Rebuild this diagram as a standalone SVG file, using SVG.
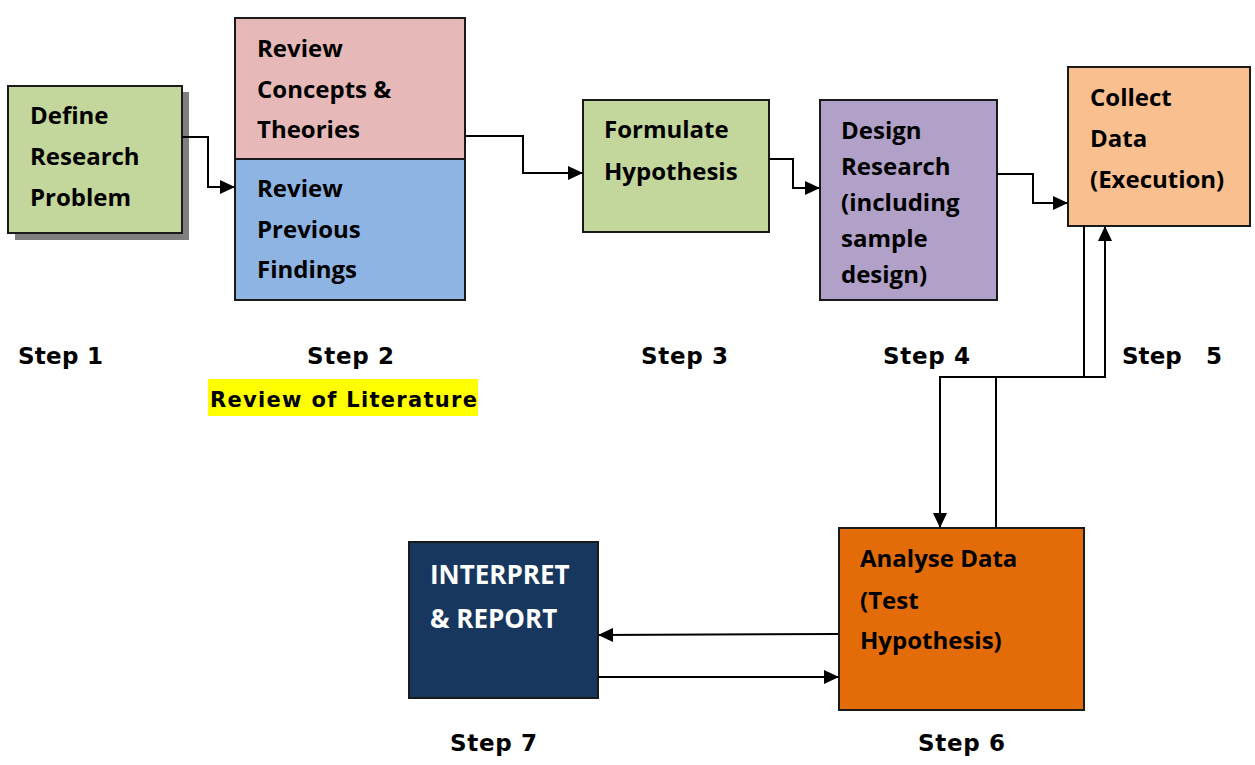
<svg xmlns="http://www.w3.org/2000/svg" width="1255" height="765" viewBox="0 0 1255 765">
<style>
.box{stroke:#1a1a1a;stroke-width:2}
.t{font-family:"Open Sans","Noto Sans","Liberation Sans",sans-serif;font-weight:bold;font-size:24px;fill:#000}
.w{fill:#fff;font-size:26px}
.lbl{font-family:"DejaVu Sans","Liberation Sans",sans-serif;font-weight:bold;font-size:23px;fill:#000}
.c{fill:none;stroke:#000;stroke-width:2}
</style>
<defs>
<marker id="ah" markerUnits="userSpaceOnUse" markerWidth="16" markerHeight="14" refX="14" refY="7" orient="auto">
<path d="M0,0 L15,7 L0,14 Z" fill="#000"/>
</marker>
</defs>
<rect width="1255" height="765" fill="#fff"/>

<g id="step1">
<rect x="15" y="92" width="174" height="148" fill="#7f7f7f"/>
<rect class="box" x="8" y="86" width="174" height="147" fill="#C3D69B"/>
<text class="t" x="30" y="124">Define</text>
<text class="t" x="30" y="165">Research</text>
<text class="t" x="30" y="206">Problem</text>
</g>

<g id="step2">
<rect class="box" x="235" y="18" width="230" height="141" fill="#E6B8B7"/>
<rect class="box" x="235" y="159" width="230" height="141" fill="#8EB4E3"/>
<text class="t" x="257" y="57">Review</text>
<text class="t" x="257" y="98">Concepts &amp;</text>
<text class="t" x="257" y="138">Theories</text>
<text class="t" x="257" y="197">Review</text>
<text class="t" x="257" y="238">Previous</text>
<text class="t" x="257" y="278">Findings</text>
</g>

<g id="step3">
<rect class="box" x="583" y="100" width="186" height="132" fill="#C3D69B"/>
<text class="t" x="604" y="138">Formulate</text>
<text class="t" x="604" y="180">Hypothesis</text>
</g>

<g id="step4">
<rect class="box" x="820" y="100" width="177" height="200" fill="#B1A0C7"/>
<text class="t" x="841" y="139">Design</text>
<text class="t" x="841" y="175">Research</text>
<text class="t" x="841" y="211">(including</text>
<text class="t" x="841" y="247">sample</text>
<text class="t" x="841" y="283">design)</text>
</g>

<g id="step5">
<rect class="box" x="1068" y="67" width="182" height="159" fill="#FABF8F"/>
<text class="t" x="1090" y="106">Collect</text>
<text class="t" x="1090" y="147">Data</text>
<text class="t" x="1090" y="188">(Execution)</text>
</g>

<g id="step6">
<rect class="box" x="839" y="528" width="245" height="182" fill="#E36C09"/>
<text class="t" x="860" y="567">Analyse Data</text>
<text class="t" x="860" y="609">(Test</text>
<text class="t" x="860" y="649">Hypothesis)</text>
</g>

<g id="step7">
<rect class="box" x="409" y="542" width="189" height="156" fill="#17375E"/>
<text class="t w" x="430" y="584">INTERPRET</text>
<text class="t w" x="430" y="628">&amp; REPORT</text>
</g>

<g id="labels">
<text class="lbl" x="18" y="364" textLength="85">Step 1</text>
<text class="lbl" x="307" y="364" textLength="87">Step 2</text>
<rect x="208" y="379" width="270" height="37" fill="#FFFF00"/>
<text class="lbl" x="210" y="407" style="font-size:21px" textLength="267">Review of Literature</text>
<text class="lbl" x="641" y="364" textLength="87">Step 3</text>
<text class="lbl" x="883" y="364" textLength="87">Step 4</text>
<text class="lbl" x="1122" y="364" xml:space="preserve" style="white-space:pre" textLength="100">Step   5</text>
<text class="lbl" x="450" y="751" textLength="87">Step 7</text>
<text class="lbl" x="918" y="751" textLength="87">Step 6</text>
</g>

<g id="connectors">
<path class="c" d="M182,137 H208 V187 H234" marker-end="url(#ah)"/>
<path class="c" d="M465,136 H523 V173 H582" marker-end="url(#ah)"/>
<path class="c" d="M769,159 H793 V188 H819" marker-end="url(#ah)"/>
<path class="c" d="M997,174 H1033 V203 H1067" marker-end="url(#ah)"/>
<path class="c" d="M1084,226 V377"/>
<path class="c" d="M996,527 V377 H1105 V227" marker-end="url(#ah)"/>
<path class="c" d="M1084,377 H940 V527" marker-end="url(#ah)"/>
<path class="c" d="M838,634 L599,635" marker-end="url(#ah)"/>
<path class="c" d="M598,677 H838" marker-end="url(#ah)"/>
</g>
</svg>
